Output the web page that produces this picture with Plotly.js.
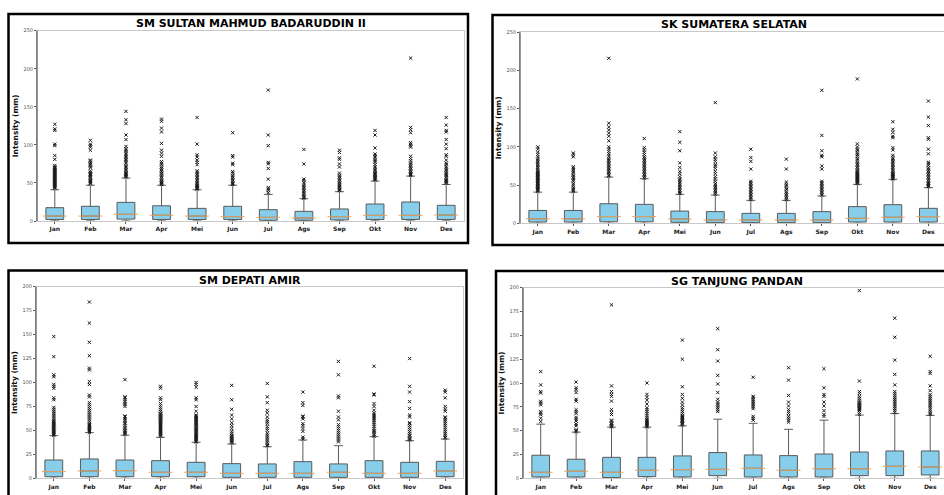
<!DOCTYPE html>
<html>
<head>
<meta charset="utf-8">
<script src="https://cdn.plot.ly/plotly-3.0.1.min.js"></script>
<style>
  html, body { margin: 0; padding: 0; background: #ffffff; }
  #chart { width: 944px; height: 495px; }
</style>
</head>
<body>
<div id="chart"></div>
<script>
// Monthly rainfall intensity (mm) per station, box statistics + outliers
const months = ['Jan', 'Feb', 'Mar', 'Apr', 'Mei', 'Jun', 'Jul', 'Ags', 'Sep', 'Okt', 'Nov', 'Des'];
const stations = ['SM SULTAN MAHMUD BADARUDDIN II', 'SK SUMATERA SELATAN', 'SM DEPATI AMIR', 'SG TANJUNG PANDAN'];
const yAxisLabel = 'Intensity (mm)';
const lowFence = [0, 0, 0, 0, 0, 0, 0, 0, 0, 0, 0, 0];

// SM Sultan Mahmud Badaruddin II
const smbQ1     = [2, 2, 2.5, 2, 2, 2, 1, 1, 1.5, 2, 2, 2];
const smbMedian = [6.5, 6.5, 8.8, 7.5, 6.5, 5.7, 4.8, 4, 5.7, 7.4, 7.4, 7.9];
const smbQ3     = [17.5, 19.3, 24.5, 20, 16.6, 19.3, 14.9, 12.7, 15.8, 22.3, 25, 20.6];
const smbUpper  = [41, 47, 56.5, 47, 41, 47, 35, 29.3, 38.5, 52.5, 59, 48];
const smbOutliers = [
  [43,44,45,46,47,48,49,50,51,52,53,54,55,56,57,58,59,60,61,62,63,64,65,66,67,68,69,70,71,73,81,86,99,101,119,121,127],
  [49,50,51,52,53,55,57,58,60,61,62,63,64,66,70,72,74,75,77,79,80,93,97,99,101,106],
  [58,59,60,61,62,63,65,67,69,71,73,76,78,80,82,84,86,88,91,93,95,98,107,113,128,133,144],
  [48,49,50,51,52,54,56,58,60,62,63,65,67,69,71,74,76,78,85,89,93,102,117,122,131,134],
  [42,43,44,45,46,47,48,50,52,54,56,58,60,62,64,66,74,77,80,84,87,101,136],
  [48,49,50,52,54,56,58,60,63,65,74,76,84,86,116],
  [37,40,42,44,55,69,75,77,99,113,172],
  [30,31,33,35,37,39,41,43,45,47,50,53,55,75,94],
  [40,41,42,44,45,47,48,50,52,54,56,58,60,63,71,75,81,83,90,93],
  [54,55,56,57,58,60,61,62,63,65,67,69,71,74,77,79,81,84,86,88,96,113,119],
  [60,61,62,63,64,66,68,70,72,74,76,79,82,85,97,99,101,103,116,120,123,214],
  [50,51,52,53,54,56,58,60,61,63,65,67,69,71,74,76,80,85,87,95,101,107,117,119,126,136]
];

// SK Sumatera Selatan
const sksQ1     = [1.7, 1.7, 2, 2, 1.3, 0.9, 0.9, 0.9, 0.9, 1.7, 1.7, 1.7];
const sksMedian = [5.9, 5.9, 8.8, 8.8, 5.7, 4.4, 4.4, 4.4, 4.4, 6.5, 7.9, 8.7];
const sksQ3     = [16.8, 16.8, 25.6, 24.8, 16, 15.3, 13, 13, 15.3, 21.8, 24.4, 19.6];
const sksUpper  = [40.8, 40.8, 60.5, 58.3, 38, 37, 30, 30, 35.8, 51, 57.6, 46.7];
const sksOutliers = [
  [42,43,44,45,46,47,48,49,50,51,52,53,54,55,56,57,58,59,60,61,62,63,64,65,66,67,68,70,72,74,76,78,80,82,84,87,90,93,97,100],
  [42,43,45,47,50,52,55,57,59,61,63,66,68,70,72,74,87,90,92],
  [62,63,65,67,69,71,73,75,77,79,81,83,85,88,91,94,97,100,108,114,118,122,126,131,216],
  [59,61,63,65,67,69,71,73,75,77,79,81,83,85,87,90,93,96,99,111],
  [39,40,42,44,46,48,50,52,54,56,58,61,65,68,73,79,95,106,120],
  [38,40,42,44,46,48,50,52,55,58,61,65,68,72,75,77,81,84,87,92,158],
  [31,33,35,37,39,41,43,45,47,49,51,53,55,71,81,86,97],
  [31,33,35,37,39,41,44,46,49,51,54,71,84],
  [37,39,41,43,45,47,49,51,53,55,71,75,87,89,95,115,174],
  [52,53,54,55,56,57,58,59,60,61,62,63,64,65,66,67,68,70,72,74,76,78,80,83,85,88,90,92,95,97,100,104,189],
  [58,59,60,61,62,63,64,65,66,68,70,72,74,76,78,80,82,84,86,89,96,99,112,114,119,123,133],
  [48,49,50,51,52,53,55,57,59,61,63,65,67,69,71,73,76,78,80,91,97,110,112,128,139,160]
];

// SM Depati Amir
const sdaQ1     = [1.7, 1.7, 1.7, 1.7, 1.7, 1, 1, 1, 1, 1, 1, 1.7];
const sdaMedian = [7, 7.7, 8, 6.3, 6.3, 5.2, 5.2, 5.2, 6.3, 5.2, 5.2, 7.7];
const sdaQ3     = [19.1, 20.2, 19.1, 18.4, 16.7, 15.3, 15, 17.4, 15, 18.4, 16.7, 17.7];
const sdaUpper  = [44.5, 47.7, 45, 42.8, 37.6, 35.8, 33, 40, 34, 43.5, 39.3, 41];
const sdaOutliers = [
  [45,46,47,48,49,50,51,52,53,54,55,56,57,58,59,60,62,64,66,68,70,72,74,82,84,94,96,98,106,108,127,148],
  [48,49,50,51,52,53,54,55,56,57,59,61,63,65,67,69,71,73,75,77,79,85,87,98,101,113,115,128,142,162,184],
  [46,47,48,49,50,52,53,55,57,58,60,62,64,65,75,77,78,80,82,84,85,103],
  [44,45,46,47,48,49,50,51,52,53,54,55,56,57,58,59,60,61,62,63,64,65,66,67,68,70,72,74,76,78,82,84,94,96],
  [38,39,40,41,42,43,44,45,46,47,48,49,50,51,52,53,54,55,56,57,58,59,60,61,62,63,64,65,66,70,75,82,84,95,98,100],
  [37,38,39,40,41,42,43,44,45,47,49,52,55,58,62,66,72,82,97],
  [34,35,37,39,41,43,45,47,50,52,54,57,59,61,64,68,71,79,85,99],
  [41,43,49,52,55,57,62,64,65,76,79,90],
  [38,40,42,44,46,48,50,52,54,56,61,64,70,84,86,108,122],
  [44,46,48,49,50,52,54,56,58,60,62,64,66,68,71,75,78,87,88,117],
  [40,41,42,44,45,47,49,51,53,55,57,58,64,66,73,80,90,96,125],
  [42,43,45,47,49,51,53,55,57,59,61,63,64,70,72,75,84,90,92]
];

// SG Tanjung Pandan
const tpnQ1     = [1.4, 1.4, 0.8, 1.8, 1.4, 2.8, 1.4, 1.4, 1.4, 2.8, 2.8, 3.5];
const tpnMedian = [6.3, 7.4, 6.3, 8.4, 9.1, 9.4, 10.5, 8.4, 10, 10, 12.6, 11.9];
const tpnQ3     = [24.2, 20, 22, 22, 23.5, 27, 24.5, 23.8, 25.5, 27.6, 28.7, 28.7];
const tpnUpper  = [56.8, 48.4, 53.7, 53.7, 55, 62, 57.7, 51.4, 61, 66.4, 68, 66];
const tpnOutliers = [
  [59.6,63,66.7,68.4,70,77,79,80.7,89.5,91,98,112],
  [49,50,51,55,57,60,62,64,68,70,72,81,83,90,93,95,101],
  [54,55,56,57,58,60,61,67,69,72,81,86,88,91,97,182],
  [54,55,56,57,58,59,60,61,62,64,66,68,70,72,74,78,82,85,88,100],
  [56,57,58,59,60,61,62,63,64,65,66,68,70,72,74,77,80,84,88,96,125,145],
  [70,72,74,76,78,80,83,90,99,108,123,135,157],
  [61,63,65,73,75,77,79,81,83,85,86,106],
  [59,61,63,65,68,70,72,76,80,87,103,116],
  [65,67,71,76,80,86,88,95,115],
  [67,69,71,72,73,74,75,76,77,78,79,80,82,84,86,89,91,102,197],
  [69,71,73,75,77,79,81,83,85,87,89,91,98,109,124,148,168],
  [67,68,70,72,74,76,78,80,82,84,86,88,92,97,110,112,128]
];

// ---- page geometry (pixels) ----
const W = 944, H = 495;
const FONT = 'DejaVu Sans';

const panels = [
  { title: stations[0], q1: smbQ1, med: smbMedian, q3: smbQ3, up: smbUpper, out: smbOutliers,
    yMax: 250, yStep: 50, plotX: [37, 464], plotY: [30.7, 221], xRange: [-0.5, 11.5],
    titleXY: [250.5, 24], frame: [8.5, 14, 468, 243] },
  { title: stations[1], q1: sksQ1, med: sksMedian, q3: sksQ3, up: sksUpper, out: sksOutliers,
    yMax: 250, yStep: 50, plotX: [520, 944], plotY: [32.3, 223.3], xRange: [-0.5, 11.44],
    titleXY: [733.5, 24.5], frame: [492.5, 15, 990, 245] },
  { title: stations[2], q1: sdaQ1, med: sdaMedian, q3: sdaQ3, up: sdaUpper, out: sdaOutliers,
    yMax: 200, yStep: 25, plotX: [36, 463], plotY: [286.7, 478.3], xRange: [-0.5, 11.5],
    titleXY: [249.5, 280.5], frame: [8.5, 270.5, 466.5, 520] },
  { title: stations[3], q1: tpnQ1, med: tpnMedian, q3: tpnQ3, up: tpnUpper, out: tpnOutliers,
    yMax: 200, yStep: 25, plotX: [523, 944], plotY: [287.7, 478.3], xRange: [-0.5, 11.39],
    titleXY: [736.5, 281], frame: [496, 271, 990, 520] }
];

const px = v => v / W;
const py = v => 1 - v / H;

const traces = [];
const layout = {
  width: W, height: H,
  margin: { l: 0, r: 0, t: 0, b: 0, pad: 0 },
  paper_bgcolor: '#ffffff',
  plot_bgcolor: '#ffffff',
  showlegend: false,
  font: { family: FONT, color: '#222222' },
  annotations: [],
  shapes: []
};

panels.forEach((p, i) => {
  const n = i === 0 ? '' : String(i + 1);
  const xa = 'x' + n, ya = 'y' + n;

  // boxes with whiskers
  traces.push({
    type: 'box', orientation: 'v', xaxis: xa, yaxis: ya,
    x: months, q1: p.q1, median: p.med, q3: p.q3,
    lowerfence: lowFence, upperfence: p.up,
    boxpoints: false, width: 0.5, whiskerwidth: 0.5,
    fillcolor: '#87ceeb',
    line: { color: '#5a5a5a', width: 1 },
    hoverinfo: 'skip'
  });

  // orange median bars
  traces.push({
    type: 'scatter', mode: 'markers', xaxis: xa, yaxis: ya,
    x: months, y: p.med,
    marker: { symbol: 'line-ew', size: 17, line: { color: '#e8a462', width: 1 } },
    hoverinfo: 'skip', cliponaxis: false
  });

  // outliers
  const ox = [], oy = [];
  p.out.forEach((vals, m) => vals.forEach(v => { ox.push(months[m]); oy.push(v); }));
  traces.push({
    type: 'scatter', mode: 'markers', xaxis: xa, yaxis: ya,
    x: ox, y: oy,
    marker: { symbol: 'x-thin', size: 3.2, color: '#1a1a1a', line: { color: '#1a1a1a', width: 1 } },
    hoverinfo: 'skip'
  });

  const tv = [];
  for (let v = 0; v <= p.yMax; v += p.yStep) tv.push(v);

  layout['xaxis' + n] = {
    domain: [px(p.plotX[0]), px(p.plotX[1])],
    anchor: ya, type: 'category', categoryorder: 'array', categoryarray: months,
    range: p.xRange, fixedrange: true,
    showline: true, mirror: true, linecolor: '#c8c8c8', linewidth: 1,
    showgrid: false, zeroline: false,
    ticks: 'outside', ticklen: 2, tickcolor: '#555555', tickwidth: 1,
    tickfont: { family: FONT, size: 6, weight: 'bold', color: '#222222' }
  };
  layout['yaxis' + n] = {
    domain: [py(p.plotY[1]), py(p.plotY[0])],
    anchor: xa, range: [0, p.yMax], fixedrange: true,
    tickmode: 'array', tickvals: tv,
    showline: true, mirror: true, linecolor: '#c8c8c8', linewidth: 1,
    showgrid: false, zeroline: false,
    ticks: 'outside', ticklen: 2, tickcolor: '#555555', tickwidth: 1,
    tickfont: { family: FONT, size: 5, color: '#555555' },
    title: { text: yAxisLabel, standoff: 3,
             font: { family: FONT, size: 7.5, weight: 'bold', color: '#111111' } }
  };

  // darker left spine
  layout.shapes.push({
    type: 'line', xref: xa + ' domain', yref: ya + ' domain',
    x0: 0, x1: 0, y0: 0, y1: 1, layer: 'above',
    line: { color: '#333333', width: 1 }
  });

  // black frame around each panel
  layout.shapes.push({
    type: 'rect', xref: 'paper', yref: 'paper',
    x0: px(p.frame[0]), x1: px(p.frame[2]), y0: py(p.frame[3]), y1: py(p.frame[1]),
    line: { color: '#000000', width: 2.5 }, layer: 'above'
  });

  // panel title
  layout.annotations.push({
    xref: 'paper', yref: 'paper', x: px(p.titleXY[0]), y: py(p.titleXY[1]),
    xanchor: 'center', yanchor: 'middle', showarrow: false,
    text: p.title,
    font: { family: FONT, size: 11, weight: 'bold', color: '#000000' }
  });
});

Plotly.newPlot('chart', traces, layout, { staticPlot: true, displayModeBar: false });
</script>
</body>
</html>
